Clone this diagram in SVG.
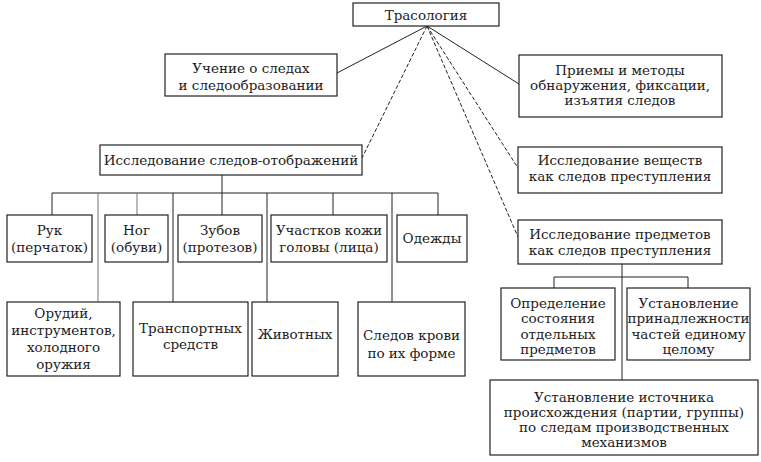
<svg xmlns="http://www.w3.org/2000/svg" width="761" height="462" viewBox="0 0 761 462">
<style>
.box{fill:#fff;stroke:#222;stroke-width:1.2}
.t{font-family:"DejaVu Serif","Liberation Serif",serif;font-size:13.5px;fill:#222;text-anchor:middle}
.c{fill:none;stroke:#222;stroke-width:1}
.d{fill:none;stroke:#222;stroke-width:1;stroke-dasharray:4 2}
.f{fill:none;stroke:#777;stroke-width:1}
</style>
<rect width="761" height="462" fill="#fff"/>
<g id="connectors">
<line class="c" x1="427" y1="26" x2="337" y2="73"/>
<line class="c" x1="427" y1="26" x2="519" y2="84"/>
<line class="d" x1="427" y1="26" x2="362" y2="158"/>
<line class="d" x1="427" y1="26" x2="518" y2="168"/>
<line class="d" x1="427" y1="26" x2="518" y2="237"/>
<line class="c" x1="222" y1="175" x2="222" y2="215"/>
<line class="c" x1="52" y1="193" x2="438" y2="193"/>
<line class="c" x1="52" y1="193" x2="52" y2="215"/>
<line class="f" x1="137" y1="193" x2="137" y2="215"/>
<line class="c" x1="333" y1="193" x2="333" y2="215"/>
<line class="c" x1="438" y1="193" x2="438" y2="215"/>
<line class="f" x1="98" y1="193" x2="98" y2="302"/>
<line class="c" x1="173" y1="193" x2="173" y2="302"/>
<line class="c" x1="267" y1="193" x2="267" y2="302"/>
<line class="c" x1="392" y1="193" x2="392" y2="302"/>
<line class="c" x1="622" y1="264" x2="622" y2="380"/>
<polyline class="c" points="554,288 554,277 688,277 688,288"/>
</g>
<g id="n-trasologia"><rect class="box" x="353" y="3" width="146" height="23"/><text class="t" x="426" y="20">Трасология</text></g>
<g id="n-uchenie"><rect class="box" x="165" y="54" width="172" height="42"/><text class="t" x="251" y="73">Учение о следах</text><text class="t" x="251" y="90">и следообразовании</text></g>
<g id="n-priemy"><rect class="box" x="519" y="55" width="203" height="62"/><text class="t" x="620" y="75">Приемы и методы</text><text class="t" x="620" y="90">обнаружения, фиксации,</text><text class="t" x="620" y="105">изъятия следов</text></g>
<g id="n-otobr"><rect class="box" x="100" y="145" width="262" height="30"/><text class="t" x="231" y="165">Исследование следов-отображений</text></g>
<g id="n-veshch"><rect class="box" x="518" y="147" width="204" height="46"/><text class="t" x="620" y="165">Исследование веществ</text><text class="t" x="620" y="181">как следов преступления</text></g>
<g id="n-predm"><rect class="box" x="518" y="220" width="204" height="44"/><text class="t" x="620" y="239">Исследование предметов</text><text class="t" x="620" y="255">как следов преступления</text></g>
<g id="n-ruk"><rect class="box" x="7" y="215" width="85" height="47"/><text class="t" x="49.5" y="235">Рук</text><text class="t" x="49.5" y="252">(перчаток)</text></g>
<g id="n-nog"><rect class="box" x="105" y="215" width="63" height="47"/><text class="t" x="136.5" y="235">Ног</text><text class="t" x="136.5" y="252">(обуви)</text></g>
<g id="n-zub"><rect class="box" x="178" y="215" width="84" height="47"/><text class="t" x="220" y="235">Зубов</text><text class="t" x="220" y="252">(протезов)</text></g>
<g id="n-kozha"><rect class="box" x="271" y="215" width="116" height="47"/><text class="t" x="329" y="235" textLength="106" lengthAdjust="spacingAndGlyphs">Участков кожи</text><text class="t" x="329" y="252">головы (лица)</text></g>
<g id="n-odezh"><rect class="box" x="397" y="215" width="70" height="47"/><text class="t" x="432" y="243">Одежды</text></g>
<g id="n-orud"><rect class="box" x="7" y="302" width="113" height="74"/><text class="t" x="63.5" y="318">Орудий,</text><text class="t" x="63.5" y="335">инструментов,</text><text class="t" x="63.5" y="352">холодного</text><text class="t" x="63.5" y="369">оружия</text></g>
<g id="n-transp"><rect class="box" x="133" y="302" width="115" height="74"/><text class="t" x="190.5" y="333">Транспортных</text><text class="t" x="190.5" y="349">средств</text></g>
<g id="n-zhiv"><rect class="box" x="252" y="302" width="86" height="74"/><text class="t" x="295" y="339">Животных</text></g>
<g id="n-krov"><rect class="box" x="358" y="302" width="107" height="74"/><text class="t" x="411.5" y="340">Следов крови</text><text class="t" x="411.5" y="358">по их форме</text></g>
<g id="n-sost"><rect class="box" x="501" y="288" width="114" height="72"/><text class="t" x="558" y="308">Определение</text><text class="t" x="558" y="323">состояния</text><text class="t" x="558" y="339">отдельных</text><text class="t" x="558" y="354">предметов</text></g>
<g id="n-prinadl"><rect class="box" x="627" y="288" width="123" height="72"/><text class="t" x="688.5" y="308">Установление</text><text class="t" x="688.5" y="323">принадлежности</text><text class="t" x="688.5" y="339">частей единому</text><text class="t" x="688.5" y="354">целому</text></g>
<g id="n-istoch"><rect class="box" x="490" y="380" width="268" height="75"/><text class="t" x="624" y="402">Установление источника</text><text class="t" x="624" y="417">происхождения (партии, группы)</text><text class="t" x="624" y="432">по следам производственных</text><text class="t" x="624" y="447">механизмов</text></g>
</svg>
